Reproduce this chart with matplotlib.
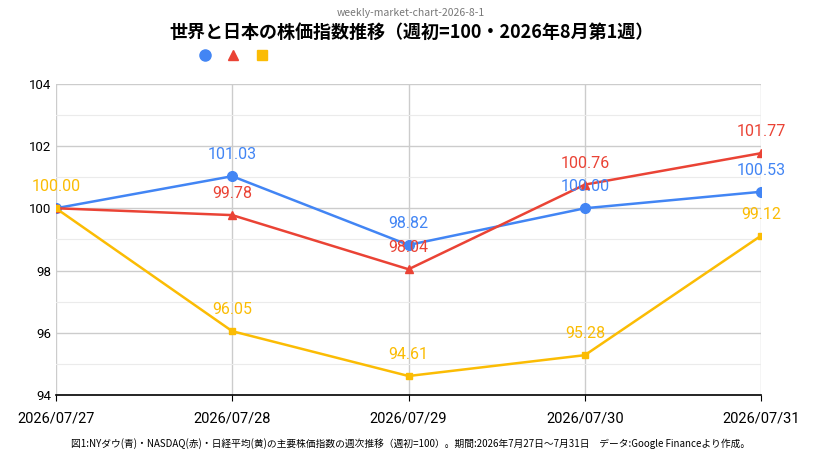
import matplotlib.pyplot as plt
from matplotlib.ticker import MultipleLocator

plt.rcParams['font.family'] = ['Noto Sans CJK JP', 'DejaVu Sans']

dates = ['2026/07/27', '2026/07/28', '2026/07/29', '2026/07/30', '2026/07/31']
dow = [100.00, 101.03, 98.82, 100.00, 100.53]
nasdaq = [100.00, 99.78, 98.04, 100.76, 101.77]
nikkei = [100.00, 96.05, 94.61, 95.28, 99.12]

series = [
    (dow, '#4285f4', 'o', 7),
    (nasdaq, '#ea4335', '^', 6),
    (nikkei, '#fbbc04', 's', 5),
]

fig = plt.figure(figsize=(8.22, 4.68), dpi=100)
ax = fig.add_axes([0.068, 0.156, 0.858, 0.665])
x = range(len(dates))
for i, (vals, color, marker, ms) in enumerate(series):
    ax.plot(x, vals, color=color, marker=marker, markersize=ms, linewidth=1.8)
    for xi, v in zip(x, vals):
        # overlapping labels at the shared start point: only the last one shows
        if xi == 0 and i < 2:
            continue
        ax.annotate(f'{v:.2f}', (xi, v), xytext=(0, 10), textcoords='offset points',
                    ha='center', va='bottom', color=color, fontsize=11.5, family='Roboto')

ax.set_xlim(0, 4)
ax.set_ylim(94, 104)
ax.set_xticks(list(x))
ax.set_xticklabels(dates, fontsize=10.5, family='Roboto')
ax.yaxis.set_major_locator(MultipleLocator(2))
ax.yaxis.set_minor_locator(MultipleLocator(1))
for lbl in ax.get_yticklabels():
    lbl.set_family('Roboto')
ax.tick_params(axis='y', labelsize=9.5, which='both', length=0)
ax.tick_params(axis='x', length=4, pad=8)
ax.grid(True, which='major', color='#cccccc', linewidth=1)
ax.grid(True, which='minor', axis='y', color='#ebebeb', linewidth=0.8)
for s in ['top', 'right', 'left']:
    ax.spines[s].set_visible(False)
ax.spines['bottom'].set_color('black')
ax.spines['bottom'].set_linewidth(1.2)

fig.text(0.5, 0.965, 'weekly-market-chart-2026-8-1', ha='center', fontsize=7.5, color='#777777')
fig.text(0.5, 0.92, '世界と日本の株価指数推移（週初=100・2026年8月第1週）', ha='center',
         fontsize=13, fontweight='bold')
for px, (vals, color, marker, ms) in zip([205, 233, 262], series):
    fig.lines.append(plt.Line2D([px / 822], [1 - 55 / 468], transform=fig.transFigure,
                                marker=marker, color=color, markersize=8 if marker == 'o' else 7,
                                linestyle='none'))
fig.text(0.5, 0.045, '図1:NYダウ(青)・NASDAQ(赤)・日経平均(黄)の主要株価指数の週次推移（週初=100）。期間:2026年7月27日～7月31日　データ:Google Financeより作成。',
         ha='center', fontsize=7)

fig.savefig('out.png', dpi=100)
